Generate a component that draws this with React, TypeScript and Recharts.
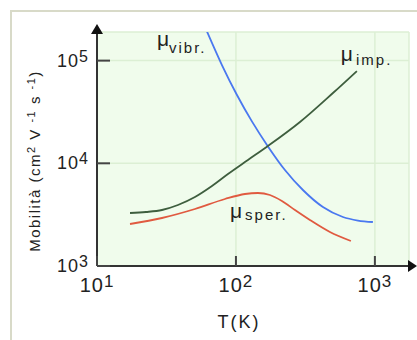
import { CartesianGrid, Label, Line, LineChart, ReferenceDot, XAxis, YAxis } from "recharts";

// temperature (K) and mobility values
const vibrT = [61.9, 79.3, 101.7, 130.3, 170, 225.2, 303.4, 422.7, 588.6, 754.6, 967.4];
const vibrMu = [192000, 90600, 46240, 25590, 14610, 8605, 5496, 3753, 3000, 2773, 2682];

const impT = [17.28, 22.52, 29.35, 38.25, 50.7, 67.2, 87.6, 122, 170, 289, 499, 742];
const impMu = [3281, 3357, 3510, 3926, 4697, 6011, 7866, 10770, 14740, 25240, 48360, 79180];

const sperT = [17.28, 29.35, 50.7, 83.4, 116.1, 144, 175.6, 214.2, 265.8, 340.7, 474.7, 672];
const sperMu = [2564, 2934, 3589, 4492, 5024, 5138, 4913, 4295, 3510, 2805, 2143, 1752];

const xTicks = [10, 100, 1000];
const yTicks = [1000, 10000, 100000];

const zip = (t: number[], mu: number[]) => t.map((v, i) => ({ t: v, mu: mu[i] }));

const FONT = "'Liberation Sans', Arial, sans-serif";
const INK = "#222";

function YTick(props: any) {
  const { x, y, payload } = props;
  const exp = Math.round(Math.log10(payload.value));
  return (
    <g>
      <line x1={x + 8} x2={x + 21} y1={y} y2={y} stroke="#444" strokeWidth={2} />
      <text x={x} y={y + 6} textAnchor="end" fontFamily={FONT} fontSize={18} fill={INK} letterSpacing={1}>
        10<tspan dy={-5} fontSize={16}>{exp}</tspan>
      </text>
    </g>
  );
}

function XTick(props: any) {
  const { x, y, payload } = props;
  const exp = Math.round(Math.log10(payload.value));
  return (
    <g>
      <line x1={x} x2={x} y1={y} y2={y - 10} stroke="#444" strokeWidth={2} />
      <text x={x} y={y + 26} textAnchor="middle" fontFamily={FONT} fontSize={20} fill={INK} letterSpacing={1}>
        10<tspan dy={-5} fontSize={17}>{exp}</tspan>
      </text>
    </g>
  );
}

function muLabel(sub: string, subDy: number, gap: number) {
  return (p: any) => (
    <text x={p.cx} y={p.cy} fontFamily={FONT} fill={INK}>
      <tspan fontSize={21}>μ</tspan>
      <tspan dx={gap} dy={subDy} fontSize={15} letterSpacing={2}>{sub}</tspan>
    </text>
  );
}

export default function App() {
  return (
    <div style={{ position: "absolute", left: 0, top: 0, width: 417, height: 340, background: "#fff" }}>
      <div
        style={{
          position: "absolute",
          left: 10,
          top: 10,
          right: 0,
          bottom: 0,
          borderLeft: "2px solid #d8dac8",
          borderTop: "2px solid #d8dac8",
        }}
      />
      <div style={{ position: "absolute", left: 0, top: 0 }}>
        <LineChart width={417} height={340} margin={{ top: 32, right: 8, bottom: 0, left: 0 }}>
          <CartesianGrid fill="#f0fcec" stroke="#dcefd4" strokeWidth={1.5} />
          <XAxis
            dataKey="t"
            type="number"
            scale="log"
            domain={[10, 1760]}
            ticks={xTicks}
            allowDataOverflow
            height={74}
            tickSize={0}
            tickMargin={0}
            tick={XTick}
            axisLine={{ stroke: "#333", strokeWidth: 2 }}
          >
            <Label
              content={() => (
                <text x={239} y={328} textAnchor="middle" fontFamily={FONT} fontSize={18} fill={INK} letterSpacing={2}>
                  T(K)
                </text>
              )}
            />
          </XAxis>
          <YAxis
            type="number"
            scale="log"
            domain={[1000, 190000]}
            ticks={yTicks}
            allowDataOverflow
            width={97}
            tickSize={0}
            tickMargin={8}
            tick={YTick}
            axisLine={{ stroke: "#333", strokeWidth: 2 }}
          >
            <Label
              content={() => (
                <text
                  x={40}
                  y={161}
                  transform="rotate(-90 40 161)"
                  textAnchor="middle"
                  fontFamily={FONT}
                  fontSize={15}
                  fill={INK}
                  letterSpacing={1.5}
                >
                  Mobilità (cm<tspan dy={-5} fontSize={11}>2</tspan>
                  <tspan dy={5}> V </tspan>
                  <tspan dy={-5} fontSize={11}>-1</tspan>
                  <tspan dy={5}> s </tspan>
                  <tspan dy={-5} fontSize={11}>-1</tspan>
                  <tspan dy={5}>)</tspan>
                </text>
              )}
            />
          </YAxis>
          <Line data={zip(vibrT, vibrMu)} dataKey="mu" type="monotone" stroke="#4a78f0" strokeWidth={1.8} dot={false} isAnimationActive={false} />
          <Line data={zip(impT, impMu)} dataKey="mu" type="monotone" stroke="#3e5e3e" strokeWidth={1.8} dot={false} isAnimationActive={false} />
          <Line data={zip(sperT, sperMu)} dataKey="mu" type="monotone" stroke="#e05a40" strokeWidth={1.8} dot={false} isAnimationActive={false} />
          <ReferenceDot x={27} y={140000} r={0} shape={muLabel("vibr.", 7, 0)} />
          <ReferenceDot x={569} y={100000} r={0} shape={muLabel("imp.", 4, 3)} />
          <ReferenceDot x={90.6} y={2940} r={0} shape={muLabel("sper.", 2, 3)} />
        </LineChart>
      </div>
      <svg width={417} height={340} style={{ position: "absolute", left: 0, top: 0, pointerEvents: "none" }}>
        <polygon points="91,34 103,34 97,24" fill="#111" />
        <polygon points="408,260 408,272 417,266" fill="#111" />
      </svg>
    </div>
  );
}
